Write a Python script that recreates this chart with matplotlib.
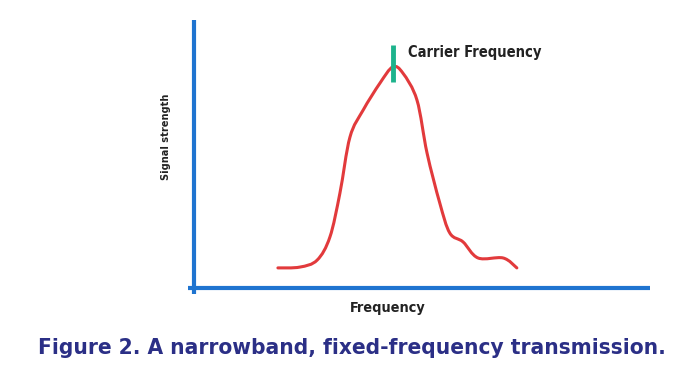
import numpy as np
import matplotlib.pyplot as plt
from matplotlib.path import Path
from matplotlib.patches import PathPatch

# signal curve (arbitrary units, 0..100)
freq = [18.4, 23.2, 27.0, 29.8, 32.0, 34.2, 37.1, 40.8, 43.6, 45.8, 48.9,
        51.1, 53.9, 56.1, 59.0, 62.3, 67.8, 70.8]
strength = [7.5, 7.8, 10.4, 19.0, 35.4, 56.3, 66.4, 76.5, 82.5, 80.2, 70.1,
            50.4, 31.7, 20.5, 17.2, 11.2, 11.2, 7.5]
carrier_freq = 43.6
carrier_span = [76.9, 90.7]

axis_blue = '#1f74d0'
red = '#e23a3c'
green = '#1db38c'
navy = '#2b2f86'
font = ['DejaVu Sans']


def smooth_path(x, y):
    # catmull-rom through the read points, drawn as cubic bezier segments
    pts = np.column_stack([x, y])
    verts = [pts[0]]
    codes = [Path.MOVETO]
    for i in range(len(pts) - 1):
        p0 = pts[max(i - 1, 0)]
        p1 = pts[i]
        p2 = pts[i + 1]
        p3 = pts[min(i + 2, len(pts) - 1)]
        verts += [p1 + (p2 - p0) / 6, p2 - (p3 - p1) / 6, p2]
        codes += [Path.CURVE4] * 3
    return Path(verts, codes)


fig = plt.figure(figsize=(6.86, 3.70), dpi=100)
ax = fig.add_axes([194 / 686, 1 - 288 / 370, 456 / 686, 268 / 370])
ax.set_xlim(0, 100)
ax.set_ylim(0, 100)
ax.axis('off')

# axes drawn as two blue lines crossing at the origin
ax.plot([-1.3, 100], [0, 0], color=axis_blue, lw=3, clip_on=False, solid_capstyle='butt')
ax.plot([0, 0], [-2.2, 100], color=axis_blue, lw=3, clip_on=False, solid_capstyle='butt')

ax.add_patch(PathPatch(smooth_path(freq, strength), fill=False, edgecolor=red,
                       lw=2.2, capstyle='round', joinstyle='round'))
ax.plot([carrier_freq, carrier_freq], carrier_span, color=green, lw=3.5, solid_capstyle='butt')

t1 = ax.text(carrier_freq + 3.3, 88, 'Carrier Frequency', family=font, weight='bold',
             stretch='condensed', fontsize=10, color='#222222', va='center', ha='left')
t2 = fig.text(166 / 686, 1 - 137 / 370, 'Signal strength', family=font, weight='bold',
              stretch='condensed', fontsize=9, color='#222222', rotation=90,
              ha='center', va='center')
t3 = fig.text(388 / 686, 1 - 308 / 370, 'Frequency', family=font, weight='bold',
              stretch='condensed', fontsize=9, color='#222222', ha='center', va='center')
cap = fig.text(352 / 686, 1 - 348 / 370, 'Figure 2. A narrowband, fixed-frequency transmission.',
               family=font, weight='bold', stretch='condensed', fontsize=17, color=navy,
               ha='center', va='center')

# fit text widths to what the reference shows
r = fig.canvas.get_renderer()
for t, target in [(t1, 132), (t2, 86), (t3, 76), (cap, 625)]:
    bb = t.get_window_extent(r)
    w = bb.height if t is t2 else bb.width
    t.set_fontsize(t.get_fontsize() * target / w)

fig.savefig('out.png', dpi=100)
